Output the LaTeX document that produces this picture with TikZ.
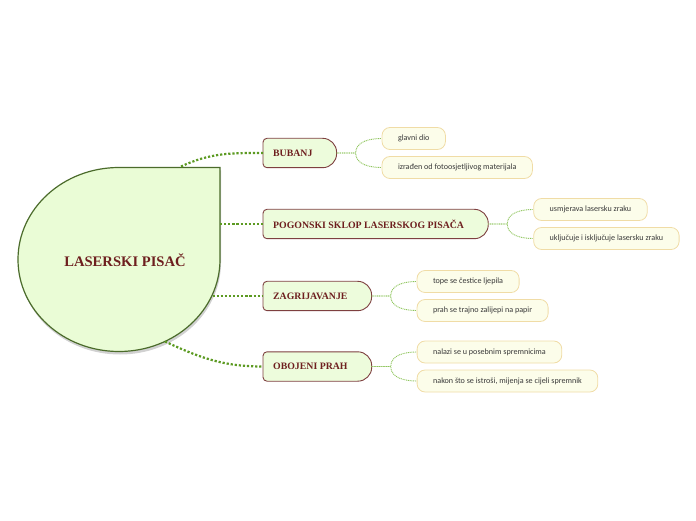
\documentclass[tikz,border=0pt]{standalone}
\usepackage{fontspec}
\setmainfont{Liberation Serif}
\newfontfamily\leaffont{Carlito}
\usetikzlibrary{positioning,backgrounds}

\definecolor{rootfill}{HTML}{EAFCD6}
\definecolor{rootedge}{HTML}{4B6B2B}
\definecolor{maroon}{HTML}{6E1F1F}
\definecolor{topicedge}{HTML}{7E4040}
\definecolor{topicfill}{HTML}{EDFCDC}
\definecolor{leaffill}{HTML}{FCFDEA}
\definecolor{leafedge}{HTML}{F0DCA6}
\definecolor{trunkgreen}{HTML}{5C9A22}
\definecolor{twiggreen}{HTML}{8EC45C}
\definecolor{leaftext}{HTML}{3A3A3A}

\begin{document}
\begin{tikzpicture}[
    x=1pt, y=1pt,
    topic/.style={anchor=west, inner xsep=10pt, minimum height=29pt, text=maroon,
        font=\fontsize{9.8}{11}\selectfont\bfseries, execute at end node={\hspace{14pt}}},
    topicbox/.style={draw=topicedge, fill=topicfill, line width=0.9pt},
    leaf/.style={draw=leafedge, fill=leaffill, line width=0.8pt, rounded corners=8pt,
        inner xsep=16pt, minimum height=22pt, text=leaftext, font=\leaffont\fontsize{8.1}{9}\selectfont},
    trunk/.style={draw=trunkgreen, line width=2.2pt, dash pattern=on 2.2pt off 1.9pt},
    twig/.style={draw=twiggreen, line width=0.9pt, dash pattern=on 1pt off 0.8pt}
]
\useasboundingbox (0,0) rectangle (696,520);

% Central topic
\node[text=maroon, font=\fontsize{14.6}{16}\selectfont\bfseries] (root) at (125,260) {LASERSKI PISAČ};

% Main topics
\node[topic] (bubanj) at (263,367) {BUBANJ};
\node[topic] (pogonski) at (263,296) {POGONSKI SKLOP LASERSKOG PISAČA};
\node[topic] (zagrij) at (263,224) {ZAGRIJAVANJE};
\node[topic] (obojeni) at (263,153.5) {OBOJENI PRAH};

% Leaves
\node[leaf, right=45pt of bubanj, yshift=14.5pt] (glavni) {glavni dio};
\node[leaf, right=45pt of bubanj, yshift=-14.5pt] (izraden) {izrađen od fotoosjetljivog materijala};
\node[leaf, right=45pt of pogonski, yshift=14.5pt] (usmjerava) {usmjerava lasersku zraku};
\node[leaf, right=45pt of pogonski, yshift=-14.5pt] (ukljucuje) {uključuje i isključuje lasersku zraku};
\node[leaf, right=45pt of zagrij, yshift=14.5pt] (tope) {tope se čestice ljepila};
\node[leaf, right=45pt of zagrij, yshift=-14.5pt] (prah) {prah se trajno zalijepi na papir};
\node[leaf, right=45pt of obojeni, yshift=14.5pt] (nalazi) {nalazi se u posebnim spremnicima};
\node[leaf, right=45pt of obojeni, yshift=-14.5pt] (nakon) {nakon što se istroši, mijenja se cijeli spremnik};

% Shapes behind the texts
\begin{scope}[on background layer]
\fill[black, opacity=0.18] (221,257.5) -- (221,349.5) -- (120,349.5)
    arc[start angle=90, end angle=360, x radius=101, y radius=92] -- cycle;
\path[draw=rootedge, fill=rootfill, line width=1.2pt] (220,260.5) -- (220,352.5) -- (119,352.5)
    arc[start angle=90, end angle=360, x radius=101, y radius=92] -- cycle;
\foreach \t in {bubanj,pogonski,zagrij,obojeni}{
    \path[topicbox] (\t.south) [rounded corners=4pt] -- (\t.south west) -- (\t.north west) -- (\t.north)
        [rounded corners=14pt] -- (\t.north east) -- (\t.south east) -- cycle;
}
\end{scope}

% Connectors from the centre
\coordinate (t1) at (181,353.5);
\coordinate (t2) at (220,296);
\coordinate (t3) at (212.5,224);
\coordinate (t4) at (165,178.5);
\draw[trunk] (t1) to[out=25,in=180] (bubanj.west);
\draw[trunk] (t2) -- (pogonski.west);
\draw[trunk] (t3) -- (zagrij.west);
\draw[trunk] (t4) to[out=-25,in=180] (obojeni.west);

% Connectors to the leaves
\foreach \t/\a/\b in {bubanj/glavni/izraden, pogonski/usmjerava/ukljucuje,
                      zagrij/tope/prah, obojeni/nalazi/nakon}{
    \draw[twig] (\t.east) -- ++(19,0) to[out=90,in=180] (\a.west);
    \draw[twig] (\t.east) -- ++(19,0) to[out=-90,in=180] (\b.west);
}

\end{tikzpicture}
\end{document}
